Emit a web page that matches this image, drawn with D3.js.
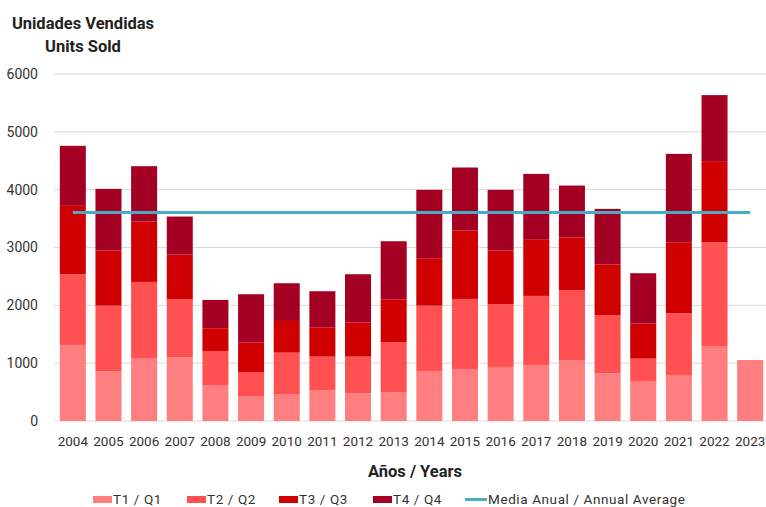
<!DOCTYPE html>
<html>
<head>
<meta charset="utf-8">
<script src="https://cdn.jsdelivr.net/npm/d3@7"></script>
<style>
  body { margin: 0; background: #fff; }
  text { font-family: Roboto, "Liberation Sans", sans-serif; }
</style>
</head>
<body>
<script>
// data
var years = ["2004","2005","2006","2007","2008","2009","2010","2011","2012","2013",
             "2014","2015","2016","2017","2018","2019","2020","2021","2022","2023"];
var q1 = [1315, 860, 1078, 1102, 611, 421, 467, 531, 479, 500, 865, 900, 934, 957, 1043, 828, 680, 784, 1286, 1055];
var q2 = [1223, 1135, 1327, 1003, 600, 427, 715, 582, 634, 865, 1130, 1211, 1085, 1206, 1223, 1004, 398, 1079, 1805, 0];
var q3 = [1182, 951, 1043, 772, 393, 513, 548, 508, 588, 740, 820, 1182, 927, 981, 905, 873, 606, 1228, 1402, 0];
var q4 = [1038, 1068, 958, 658, 489, 831, 652, 623, 837, 1003, 1182, 1090, 1051, 1129, 900, 963, 871, 1528, 1142, 0];
var annualAverage = 3604;
var seriesNames = ["T1 / Q1", "T2 / Q2", "T3 / Q3", "T4 / Q4"];
var yTicks = [0, 1000, 2000, 3000, 4000, 5000, 6000];

var colors = ["#ff7f80", "#ff5151", "#d00000", "#a30024"];
var lineColor = "#4aabc4";

var W = 766, H = 507;
var svg = d3.select("body").append("svg").attr("width", W).attr("height", H);

var x = d3.scaleBand().domain(years).range([55, 768]).paddingInner(0.27).paddingOuter(0.135);
var y = d3.scaleLinear().domain([0, 6000]).range([421, 74]);

//gridlines + y labels
svg.append("g")
  .selectAll("line").data(yTicks).join("line")
  .attr("x1", 54).attr("x2", W)
  .attr("y1", d => y(d)).attr("y2", d => y(d))
  .attr("stroke", "#d9d9d9").attr("stroke-width", 1);

svg.append("g")
  .selectAll("text").data(yTicks).join("text")
  .attr("x", 38).attr("y", d => y(d)).attr("dy", "0.35em")
  .attr("text-anchor", "end").attr("font-size", "14px").attr("fill", "#333")
  .text(d => d);

// stacked bars
var rows = years.map(function(yr, i) { return { year: yr, a: q1[i], b: q2[i], c: q3[i], d: q4[i] }; });
var stack = d3.stack().keys(["a", "b", "c", "d"])(rows);

svg.append("g").selectAll("g").data(stack).join("g")
  .attr("fill", (s, i) => colors[i])
  .selectAll("rect").data(s => s).join("rect")
  .attr("x", d => x(d.data.year))
  .attr("width", x.bandwidth())
  .attr("y", d => y(d[1]))
  .attr("height", d => y(d[0]) - y(d[1]));

// average line
svg.append("line")
  .attr("x1", x(years[0]) + x.bandwidth() / 2)
  .attr("x2", x(years[years.length - 1]) + x.bandwidth() / 2)
  .attr("y1", y(annualAverage)).attr("y2", y(annualAverage))
  .attr("stroke", lineColor).attr("stroke-width", 3);

// x labels
svg.append("g").selectAll("text").data(years).join("text")
  .attr("x", d => x(d) + x.bandwidth() / 2).attr("y", 446)
  .attr("text-anchor", "middle").attr("font-size", "13.5px").attr("fill", "#333")
  .text(d => d);

// titles
svg.append("text").attr("x", 83).attr("y", 29).attr("text-anchor", "middle")
  .attr("font-size", "16.5px").attr("font-weight", "bold").attr("fill", "#222")
  .text("Unidades Vendidas");
svg.append("text").attr("x", 83).attr("y", 52).attr("text-anchor", "middle")
  .attr("font-size", "16.5px").attr("font-weight", "bold").attr("fill", "#222")
  .text("Units Sold");
svg.append("text").attr("x", 415).attr("y", 477).attr("text-anchor", "middle")
  .attr("font-size", "16.5px").attr("font-weight", "bold").attr("fill", "#222")
  .text("Años / Years");

// legend
var legX = [93, 187, 279, 373];
var leg = svg.append("g");
seriesNames.forEach(function(n, i) {
  leg.append("rect").attr("x", legX[i]).attr("y", 496).attr("width", 19).attr("height", 7)
    .attr("fill", colors[i]);
  leg.append("text").attr("x", legX[i] + 20).attr("y", 503.5)
    .attr("font-size", "13.5px").attr("letter-spacing", "0.6px").attr("fill", "#333").text(n);
});
leg.append("line").attr("x1", 465).attr("x2", 487).attr("y1", 499.5).attr("y2", 499.5)
  .attr("stroke", lineColor).attr("stroke-width", 3);
leg.append("text").attr("x", 488).attr("y", 503.5)
  .attr("font-size", "13.5px").attr("letter-spacing", "0.6px").attr("fill", "#333")
  .text("Media Anual / Annual Average");
</script>
</body>
</html>
